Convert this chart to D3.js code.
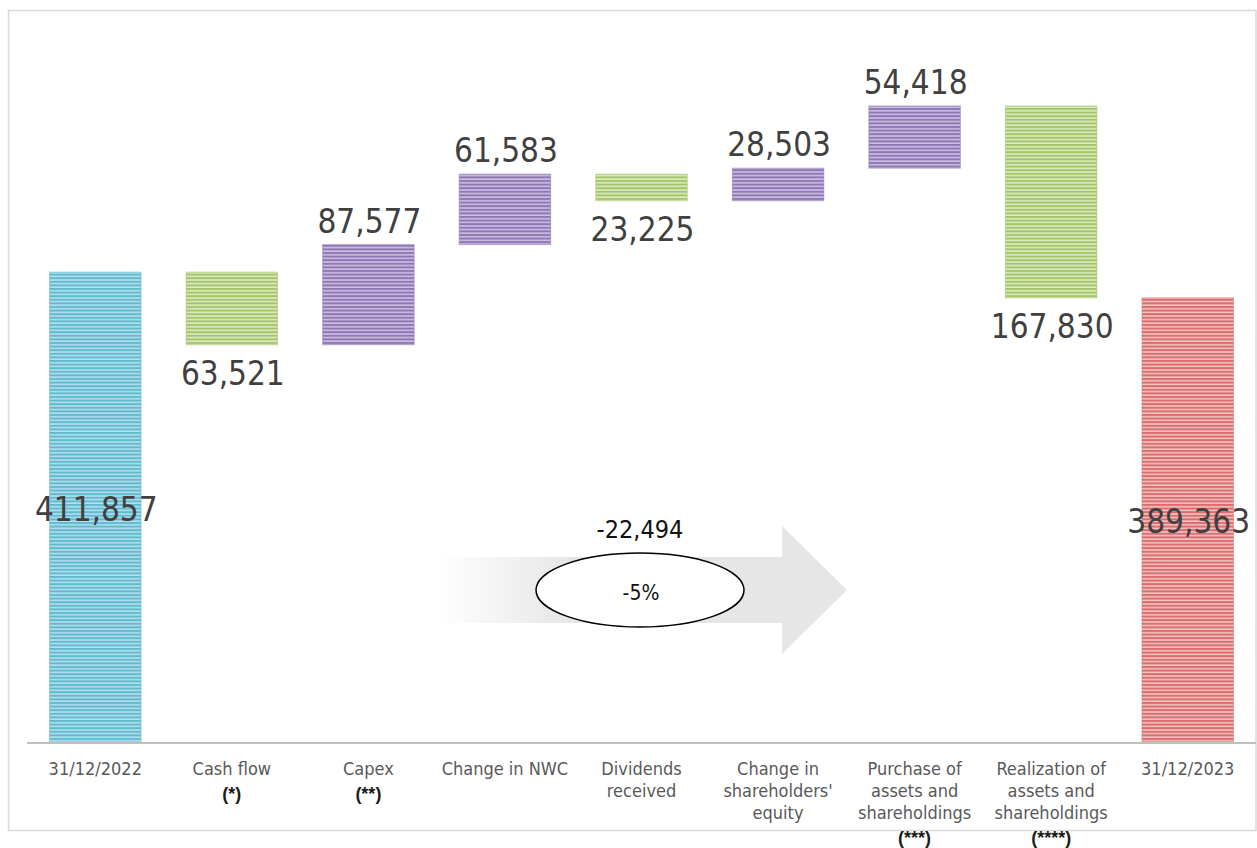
<!DOCTYPE html>
<html>
<head>
<meta charset="utf-8">
<script src="https://cdn.jsdelivr.net/npm/d3@7"></script>
<style>
  html, body { margin: 0; padding: 0; background: #ffffff; }
  svg { display: block; }
</style>
</head>
<body>
<svg id="chart" width="1257" height="848"></svg>
<script>
// Net financial position bridge, 31/12/2022 -> 31/12/2023
const categories = [
  "31/12/2022", "Cash flow", "Capex", "Change in NWC", "Dividends received",
  "Change in shareholders' equity", "Purchase of assets and shareholdings",
  "Realization of assets and shareholdings", "31/12/2023"
];
const labelLines = [
  ["31/12/2022"],
  ["Cash flow"],
  ["Capex"],
  ["Change in NWC"],
  ["Dividends", "received"],
  ["Change in", "shareholders'", "equity"],
  ["Purchase of", "assets and", "shareholdings"],
  ["Realization of", "assets and", "shareholdings"],
  ["31/12/2023"]
];
const notes = ["", "(*)", "(**)", "", "", "", "(***)", "(****)", ""];
// signed movements; first and last entries are totals
const values = [411857, -63521, 87577, 61583, -23225, 28503, 54418, -167830, 389363];
const kinds = ["start", "step", "step", "step", "step", "step", "step", "step", "end"];

const svg = d3.select("#chart");
const defs = svg.append("defs");

const palette = {
  start: { light: "#b2e0ec", dark: "#62b9d0", edge: "#6cbcd3" },
  down:  { light: "#dcebc0", dark: "#a5c56c", edge: "#a8c672" },
  up:    { light: "#cdbfe0", dark: "#8f76b4", edge: "#9480b8" },
  end:   { light: "#f5c2c2", dark: "#d96c6d", edge: "#d97879" }
};

// horizontal line fill for the bars
Object.entries(palette).forEach(([k, c]) => {
  const p = defs.append("pattern")
    .attr("id", "stripe-" + k)
    .attr("patternUnits", "userSpaceOnUse")
    .attr("width", 8).attr("height", 3.6);
  p.append("rect").attr("width", 8).attr("height", 3.6).attr("fill", c.light);
  p.append("rect").attr("y", 0).attr("width", 8).attr("height", 2).attr("fill", c.dark);
});

// waterfall geometry
let running = 0;
const bars = values.map((v, i) => {
  let y0, y1, kind;
  if (kinds[i] === "start") { y0 = 0; y1 = v; running = v; kind = "start"; }
  else if (kinds[i] === "end") { y0 = 0; y1 = v; kind = "end"; }
  else { y0 = running; y1 = running + v; running = y1; kind = v >= 0 ? "up" : "down"; }
  return { cat: categories[i], value: v, lo: Math.min(y0, y1), hi: Math.max(y0, y1), kind };
});

const x = d3.scaleBand()
  .domain(categories)
  .range([27, 1256])
  .paddingInner(0.33)
  .paddingOuter(0.165);

const y = d3.scaleLinear()
  .domain([0, 600000])
  .range([743, 57]);

// outer frame
svg.append("rect")
  .attr("x", 8.5).attr("y", 10.5)
  .attr("width", 1247.5).attr("height", 820)
  .attr("fill", "none")
  .attr("stroke", "#d9d9d9")
  .attr("stroke-width", 1.5);

// bars
svg.append("g").selectAll("rect")
  .data(bars)
  .join("rect")
  .attr("x", d => x(d.cat))
  .attr("y", d => y(d.hi))
  .attr("width", x.bandwidth())
  .attr("height", d => y(d.lo) - y(d.hi))
  .attr("fill", d => "url(#stripe-" + d.kind + ")")
  .attr("stroke", d => palette[d.kind].edge)
  .attr("stroke-width", 1)
  .attr("stroke-opacity", 0.6);

// category axis
const axis = svg.append("g");
axis.append("line")
  .attr("x1", x.range()[0]).attr("x2", x.range()[1])
  .attr("y1", y(0)).attr("y2", y(0))
  .attr("stroke", "#bfbfbf").attr("stroke-width", 2);

const fmt = d3.format(",");
const numFont = "'DejaVu Sans Condensed', 'DejaVu Sans', sans-serif";

// value labels
svg.append("g").selectAll("text")
  .data(bars)
  .join("text")
  .attr("x", d => x(d.cat) + x.bandwidth() / 2 + 1)
  .attr("y", d => {
    if (d.kind === "start" || d.kind === "end") return (y(d.lo) + y(d.hi)) / 2 + 13;
    if (d.kind === "up") return y(d.hi) - 12;
    return y(d.lo) + 40;
  })
  .attr("text-anchor", "middle")
  .attr("font-family", numFont)
  .attr("font-size", 33)
  .attr("fill", "#404040")
  .text(d => fmt(Math.abs(d.value)));

// category labels
const catG = svg.append("g");
categories.forEach((c, i) => {
  const cx = x(c) + x.bandwidth() / 2;
  const lines = labelLines[i];
  const t = catG.append("text")
    .attr("text-anchor", "middle")
    .attr("font-family", numFont)
    .attr("font-size", 18)
    .attr("fill", "#595959");
  lines.forEach((ln, j) => {
    t.append("tspan").attr("x", cx).attr("y", 775 + j * 22).text(ln);
  });
  if (notes[i]) {
    catG.append("text")
      .attr("x", cx)
      .attr("y", 775 + (lines.length - 1) * 22 + 25)
      .attr("text-anchor", "middle")
      .attr("font-family", "'Liberation Sans', Arial, sans-serif")
      .attr("font-weight", "bold")
      .attr("font-size", 18)
      .attr("fill", "#1a1a1a")
      .text(notes[i]);
  }
});

// overall change arrow
const delta = values[values.length - 1] - values[0];
const pct = delta / values[0];

const grad = defs.append("linearGradient")
  .attr("id", "arrowFade")
  .attr("gradientUnits", "userSpaceOnUse")
  .attr("x1", 437).attr("x2", 847).attr("y1", 0).attr("y2", 0);
grad.append("stop").attr("offset", 0).attr("stop-color", "#e6e6e6").attr("stop-opacity", 0);
grad.append("stop").attr("offset", 0.33).attr("stop-color", "#e6e6e6").attr("stop-opacity", 1);
grad.append("stop").attr("offset", 1).attr("stop-color", "#e6e6e6").attr("stop-opacity", 1);

const arrow = d3.path();
arrow.moveTo(437, 557);
arrow.lineTo(782, 557);
arrow.lineTo(782, 526);
arrow.lineTo(847, 590);
arrow.lineTo(782, 654);
arrow.lineTo(782, 623);
arrow.lineTo(437, 623);
arrow.closePath();
svg.append("path").attr("d", arrow.toString()).attr("fill", "url(#arrowFade)");

svg.append("ellipse")
  .attr("cx", 640).attr("cy", 590)
  .attr("rx", 104).attr("ry", 37)
  .attr("fill", "#ffffff")
  .attr("stroke", "#000000")
  .attr("stroke-width", 1.5);

svg.append("text")
  .attr("x", 641).attr("y", 600)
  .attr("text-anchor", "middle")
  .attr("font-family", numFont)
  .attr("font-size", 21)
  .attr("fill", "#111111")
  .text(d3.format(".0%")(pct).replace("−", "-"));

svg.append("text")
  .attr("x", 640).attr("y", 538)
  .attr("text-anchor", "middle")
  .attr("font-family", numFont)
  .attr("font-size", 25)
  .attr("fill", "#111111")
  .text(fmt(delta).replace("−", "-"));
</script>
</body>
</html>
